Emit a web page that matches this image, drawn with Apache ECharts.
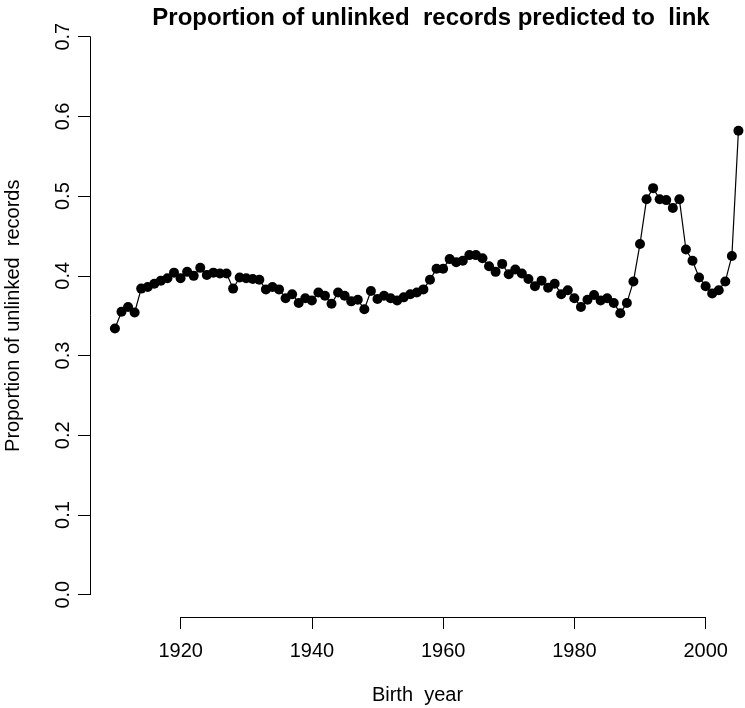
<!DOCTYPE html>
<html>
<head>
<meta charset="utf-8">
<script src="https://cdn.jsdelivr.net/npm/echarts@6/dist/echarts.min.js"></script>
<style>
  html, body { margin: 0; padding: 0; background: #fff; }
  #main { width: 745px; height: 708px; }
</style>
</head>
<body>
<div id="main"></div>
<script>
// birth years 1910..2005, one point per year
var years = [
  1910, 1911, 1912, 1913, 1914, 1915, 1916, 1917, 1918, 1919,
  1920, 1921, 1922, 1923, 1924, 1925, 1926, 1927, 1928, 1929,
  1930, 1931, 1932, 1933, 1934, 1935, 1936, 1937, 1938, 1939,
  1940, 1941, 1942, 1943, 1944, 1945, 1946, 1947, 1948, 1949,
  1950, 1951, 1952, 1953, 1954, 1955, 1956, 1957, 1958, 1959,
  1960, 1961, 1962, 1963, 1964, 1965, 1966, 1967, 1968, 1969,
  1970, 1971, 1972, 1973, 1974, 1975, 1976, 1977, 1978, 1979,
  1980, 1981, 1982, 1983, 1984, 1985, 1986, 1987, 1988, 1989,
  1990, 1991, 1992, 1993, 1994, 1995, 1996, 1997, 1998, 1999,
  2000, 2001, 2002, 2003, 2004, 2005
];
// proportion of unlinked records predicted to link
var proportion = [
  0.334, 0.355, 0.361, 0.354, 0.384, 0.386, 0.390, 0.394, 0.397, 0.404,
  0.397, 0.405, 0.400, 0.410, 0.401, 0.404, 0.403, 0.403, 0.384, 0.398,
  0.397, 0.396, 0.395, 0.383, 0.386, 0.383, 0.372, 0.377, 0.366, 0.372,
  0.369, 0.379, 0.375, 0.365, 0.379, 0.375, 0.368, 0.370, 0.358, 0.381,
  0.371, 0.375, 0.372, 0.369, 0.373, 0.377, 0.379, 0.383, 0.395, 0.409,
  0.409, 0.421, 0.417, 0.419, 0.426, 0.426, 0.422, 0.412, 0.405, 0.415,
  0.402, 0.408, 0.403, 0.396, 0.387, 0.394, 0.385, 0.390, 0.377, 0.382,
  0.372, 0.361, 0.370, 0.376, 0.369, 0.372, 0.366, 0.353, 0.366, 0.393,
  0.440, 0.496, 0.510, 0.496, 0.495, 0.485, 0.496, 0.433, 0.419, 0.398,
  0.387, 0.378, 0.382, 0.393, 0.425, 0.582
];
var yTicks = [0, 0.1, 0.2, 0.3, 0.4, 0.5, 0.6, 0.7];
var xTicks = [1920, 1940, 1960, 1980, 2000];

var chart = echarts.init(document.getElementById('main'), null, { renderer: 'canvas' });
var font = 'Liberation Sans, Arial, Helvetica, sans-serif';

var points = years.map(function (y, i) { return [y, proportion[i]]; });

var option = {
  backgroundColor: '#ffffff',
  animation: false,
  title: {
    text: 'Proportion of unlinked  records predicted to  link',
    left: 426,
    textAlign: 'center',
    top: 1,
    textStyle: { fontFamily: font, fontWeight: 'bold', fontSize: 24, color: '#000' }
  },
  grid: [
    // data area: y axis spans 0..0.7, x from padded range
    { left: 90, right: 0, top: 36.7, bottom: 113.3, outerBoundsMode: 'none', containLabel: false },
    // x axis only covering 1920..2000, drawn at plot bottom
    { left: 180.7, right: 39.3, top: 36.7, bottom: 91, outerBoundsMode: 'none', containLabel: false }
  ],
  xAxis: [
    {
      type: 'value', gridIndex: 0, min: 1906.2, max: 2006,
      axisLine: { show: false }, axisTick: { show: false },
      axisLabel: { show: false }, splitLine: { show: false },
      name: 'Birth  year', nameLocation: 'middle', nameGap: 91,
      nameTextStyle: { fontFamily: font, fontSize: 20, color: '#000' }
    },
    {
      type: 'value', gridIndex: 1, min: 1920, max: 2000, interval: 20,
      axisLine: { show: true, lineStyle: { color: '#000', width: 1 } },
      axisTick: { show: true, length: 12, lineStyle: { color: '#000', width: 1 } },
      axisLabel: {
        fontFamily: font, fontSize: 20, color: '#000', margin: 24,
        formatter: function (v) { return xTicks.indexOf(v) >= 0 ? String(v) : ''; }
      },
      splitLine: { show: false }
    }
  ],
  yAxis: [
    {
      type: 'value', gridIndex: 0, min: 0, max: 0.7, interval: 0.1,
      axisLine: { show: true, lineStyle: { color: '#000', width: 1 } },
      axisTick: { show: true, length: 12, lineStyle: { color: '#000', width: 1 } },
      axisLabel: {
        fontFamily: font, fontSize: 20, color: '#000', rotate: 90, margin: 17,
        formatter: function (v) {
          var t = yTicks.find(function (k) { return Math.abs(k - v) < 1e-9; });
          return t === undefined ? '' : t.toFixed(1);
        }
      },
      splitLine: { show: false },
      name: 'Proportion of unlinked  records', nameLocation: 'middle', nameGap: 67,
      nameTextStyle: { fontFamily: font, fontSize: 20, color: '#000' }
    },
    {
      type: 'value', gridIndex: 1, min: 0, max: 0.7, show: false
    }
  ],
  series: [
    {
      type: 'line',
      xAxisIndex: 0, yAxisIndex: 0,
      data: points,
      clip: false,
      symbol: 'circle',
      symbolSize: 10,
      showSymbol: true,
      lineStyle: { color: '#000', width: 1.2 },
      itemStyle: { color: '#000', borderWidth: 0 }
    }
  ]
};

chart.setOption(option);
</script>
</body>
</html>
